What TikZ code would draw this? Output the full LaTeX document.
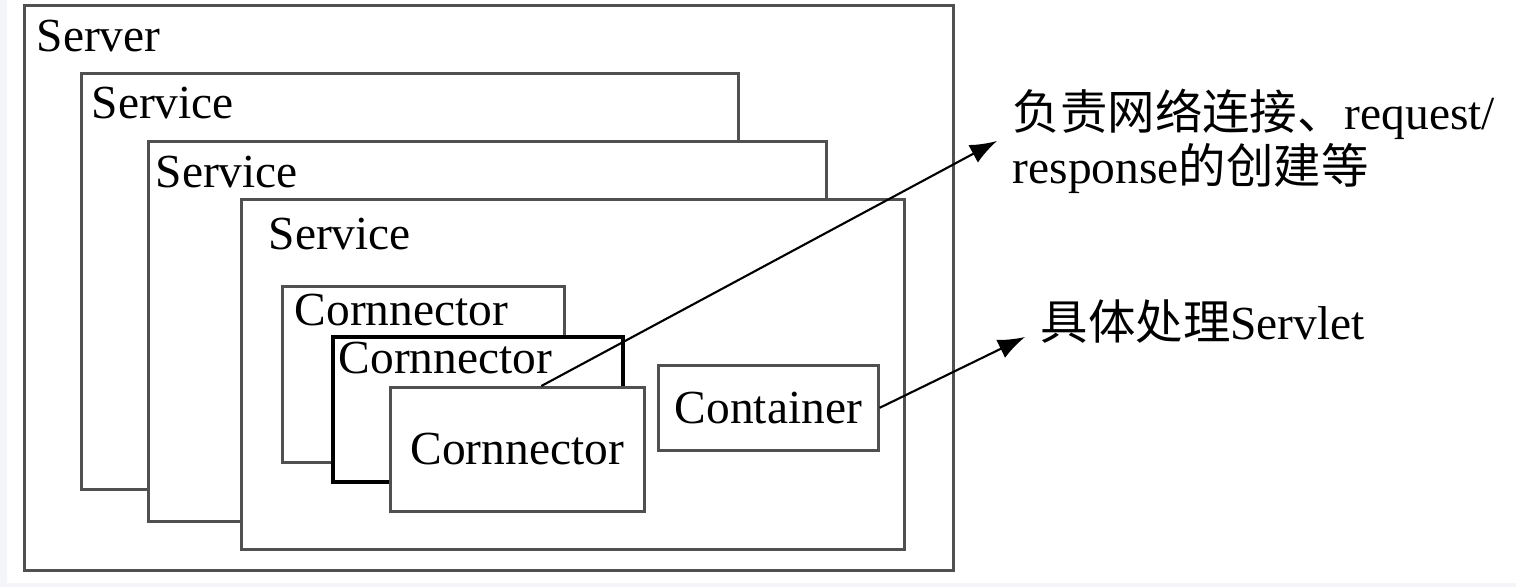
\documentclass[tikz,border=0pt]{standalone}
\usepackage{fontspec}
\setmainfont{Liberation Serif}
\newfontfamily\zhfont{Noto Sans CJK SC}
\usetikzlibrary{arrows.meta}
\definecolor{edgegray}{RGB}{80,80,80}
\definecolor{pagegray}{RGB}{244,245,248}
\tikzset{
  box/.style={draw=edgegray, line width=0.75pt, fill=white, inner sep=0pt, anchor=north west},
  thickbox/.style={box, draw=black, line width=1.2pt},
  lbl/.style={inner sep=0pt, anchor=base west},
  note/.style={anchor=west, align=left, inner sep=0.15cm},
  link/.style={-{Latex[length=0.27cm,width=0.2cm]}, line width=0.6pt}
}
\begin{document}
\begin{tikzpicture}[font=\fontsize{13.5pt}{15.4pt}\selectfont]
      \useasboundingbox (0,0) rectangle (15.16,-5.87);
      \fill[pagegray] (0,0) rectangle (15.16,-5.87);
      \fill[white] (0.07,0) rectangle (15.16,-5.83);

      % nested boxes, back to front
      \node[box, minimum width=9.29cm, minimum height=5.65cm] (server) at (0.23,-0.04) {};
      \node[lbl] (serverlbl) at ([shift={(0.13,-0.48)}]server.north west) {Server};
      \node[box, minimum width=6.57cm, minimum height=4.16cm] (serviceA) at (0.80,-0.72) {};
      \node[lbl] (serviceAlbl) at ([shift={(0.11,-0.47)}]serviceA.north west) {Service};
      \node[box, minimum width=6.78cm, minimum height=3.80cm] (serviceB) at (1.47,-1.40) {};
      \node[lbl] (serviceBlbl) at ([shift={(0.08,-0.48)}]serviceB.north west) {Service};
      \node[box, minimum width=6.63cm, minimum height=3.50cm] (serviceC) at (2.40,-1.98) {};
      \node[lbl] (serviceClbl) at ([shift={(0.28,-0.52)}]serviceC.north west) {Service};

      \node[box, minimum width=2.82cm, minimum height=1.76cm] (connA) at (2.81,-2.85) {};
      \node[lbl] (connAlbl) at ([shift={(0.13,-0.41)}]connA.north west) {Cornnector};
      \node[thickbox, minimum width=2.90cm, minimum height=1.45cm] (connB) at (3.31,-3.35) {};
      \node[lbl] (connBlbl) at ([shift={(0.07,-0.39)}]connB.north west) {Cornnector};
      \node[box, minimum width=2.54cm, minimum height=1.24cm] (connC) at (3.89,-3.86) {Cornnector};
      \node[box, minimum width=2.20cm, minimum height=0.85cm] (container) at (6.57,-3.64) {Container};

      % notes
      \node[note] (duty) at (9.97,-1.41) {{\zhfont 负责网络连接、}request/\\response{\zhfont 的创建等}};
      \node[note] (servlet) at (10.25,-3.22) {{\zhfont 具体处理}Servlet};

      \draw[link] ([xshift=0.24cm]connC.north) -- (duty.west);
      \draw[link] (container.east) -- ([yshift=-0.15cm]servlet.west);
    \end{tikzpicture}
\end{document}
